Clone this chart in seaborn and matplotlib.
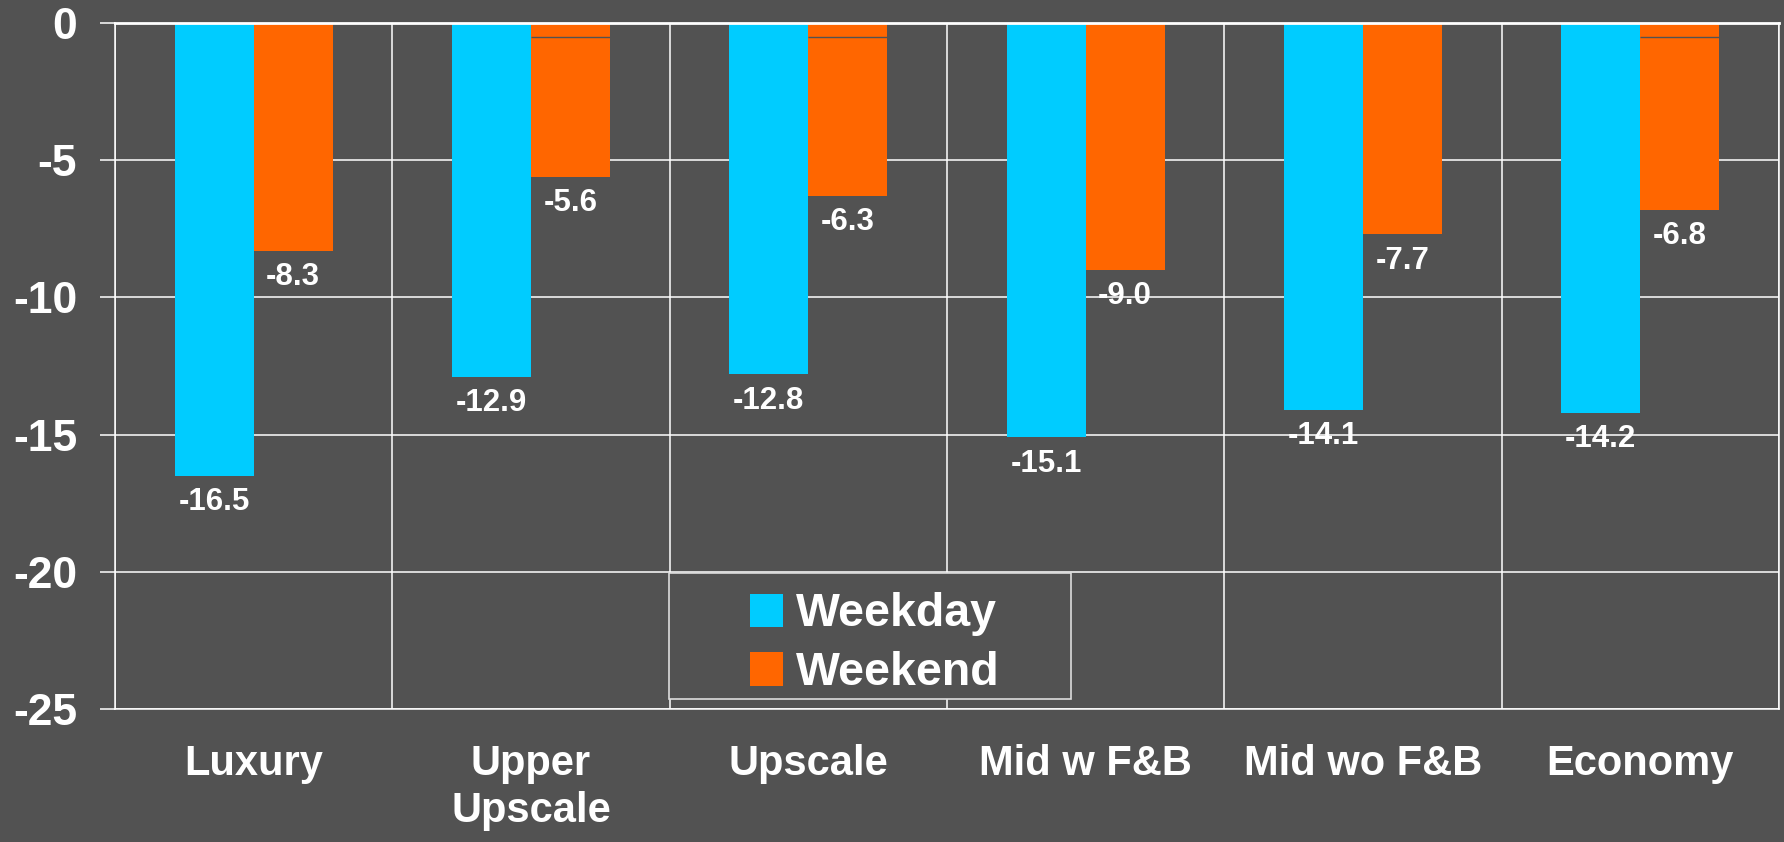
import matplotlib
matplotlib.use("Agg")
import matplotlib.pyplot as plt
import numpy as np
import pandas as pd
import seaborn as sns
from matplotlib.patches import Rectangle

# RevPAR change by hotel segment, weekday vs weekend (%)
segments = ["Luxury", "Upper\nUpscale", "Upscale", "Mid w F&B", "Mid wo F&B", "Economy"]
weekday = [-16.5, -12.9, -12.8, -15.1, -14.1, -14.2]
weekend = [-8.3, -5.6, -6.3, -9.0, -7.7, -6.8]
series = ["Weekday", "Weekend"]
weekend_rule = [None, -0.5, -0.5, None, None, -0.5]
yticks = [0, -5, -10, -15, -20, -25]

BG = "#525252"
palette = {"Weekday": "#00CCFF", "Weekend": "#FF6600"}

sns.set_theme(style="dark", rc={"axes.facecolor": BG, "figure.facecolor": BG,
                                "axes.unicode_minus": False})
plt.rcParams["font.family"] = ["Liberation Sans", "DejaVu Sans"]
plt.rcParams["font.weight"] = "bold"

W, H = 1784, 842
fig = plt.figure(figsize=(W / 100, H / 100), dpi=100, facecolor=BG)
ax = fig.add_axes([115 / W, 1 - 709 / H, 1664 / W, 686 / H])
ax.set_facecolor(BG)

df = pd.DataFrame({
    "segment": segments * 2,
    "series": [series[0]] * len(segments) + [series[1]] * len(segments),
    "value": weekday + weekend,
})
sns.barplot(data=df, x="segment", y="value", hue="series", order=segments,
            hue_order=series, palette=palette, width=0.57, gap=0,
            saturation=1, edgecolor="none", linewidth=0, zorder=2, ax=ax)

ax.set_xlim(-0.5, len(segments) - 0.5)
ax.set_ylim(-25, 0)
ax.set_xlabel("")
ax.set_ylabel("")

# horizontal grid at each tick, vertical grid between categories
ax.set_yticks(yticks)
ax.set_yticklabels([str(t) for t in yticks])
ax.set_xticks(np.arange(-0.5, len(segments), 1.0), minor=True)
ax.set_axisbelow(True)
ax.yaxis.grid(True, color="white", lw=1.1)
ax.xaxis.grid(False, which="major")
ax.xaxis.grid(True, which="minor", color="white", lw=1.1)

for side in ["left", "right", "bottom"]:
    ax.spines[side].set_color("white")
    ax.spines[side].set_linewidth(1.1)
ax.spines["top"].set_color("white")
ax.spines["top"].set_linewidth(2.0)
ax.spines["top"].set_zorder(6)

ax.tick_params(axis="y", length=10.8, width=1.1, color="white", pad=16.5,
               labelsize=32, labelcolor="white", left=True)
ax.tick_params(axis="x", which="both", length=0, pad=25,
               labelsize=30, labelcolor="white")
for lbl in ax.get_xticklabels():
    lbl.set_linespacing(1.25)
    lbl.set_fontweight("bold")
for lbl in ax.get_yticklabels():
    lbl.set_fontweight("bold")

# value labels under each bar end
for container, vals in zip(ax.containers, [weekday, weekend]):
    for bar, v in zip(container, vals):
        ax.annotate(f"{v:.1f}", xy=(bar.get_x() + bar.get_width() / 2, v),
                    xytext=(0, -19), textcoords="offset points",
                    ha="center", va="center", fontsize=22.5, color="white",
                    fontweight="bold", zorder=7)

# thin rule near the top of some weekend bars
for bar, r in zip(ax.containers[1], weekend_rule):
    if r is not None:
        ax.hlines(r, bar.get_x(), bar.get_x() + bar.get_width(),
                  color=BG, lw=1.0, zorder=3)

# legend box
ax.add_patch(Rectangle(((669 - 115) / 1664, (709 - 699) / 686), 402 / 1664, 126 / 686,
                       transform=ax.transAxes, facecolor=BG, edgecolor="#DDDDDD",
                       lw=1.2, zorder=4, clip_on=False))
handles = [Rectangle((0, 0), 1, 1, facecolor=palette[s], edgecolor="none") for s in series]
leg = ax.legend(handles, series, loc="center", bbox_to_anchor=(0.4565, 0.095),
                frameon=False, handlelength=0.72, handleheight=0.72,
                handletextpad=0.28, labelspacing=0.32, labelcolor="white",
                prop={"weight": "bold", "size": 33.5})
leg.set_zorder(5)

fig.savefig("out.png", dpi=100, facecolor=BG)
